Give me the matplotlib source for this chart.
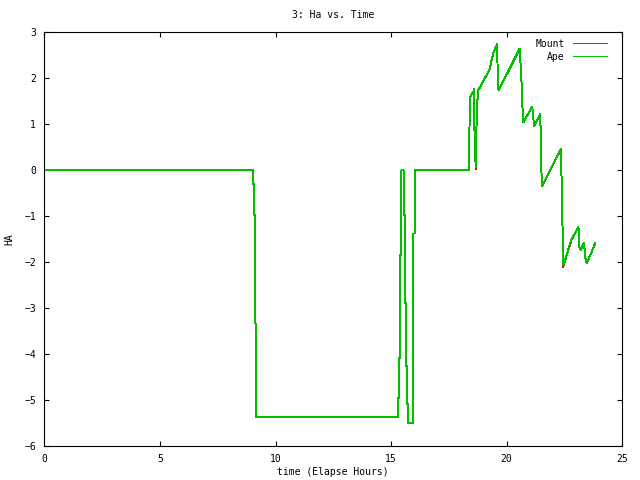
import numpy as np
import matplotlib
matplotlib.use('Agg')
import matplotlib.pyplot as plt

# elapsed hours and hour angle
time_hours = [0, 9.04, 9.04, 9.08, 9.08, 9.13, 9.13, 9.17, 9.17,
              15.29, 15.29, 15.35, 15.35, 15.39, 15.39, 15.44, 15.44, 15.48,
              15.57, 15.57, 15.61, 15.61, 15.65, 15.65, 15.70, 15.70, 15.74, 15.74,
              15.79, 15.79, 15.93, 15.93, 15.97, 15.97, 16.03, 16.03,
              18.39, 18.39, 18.42, 18.50, 18.57, 18.59, 18.59, 18.63, 18.67, 18.67,
              18.72, 18.76, 19.27, 19.42, 19.56, 19.59, 19.63, 19.67, 20.57, 20.65,
              20.69, 20.73, 21.11, 21.19, 21.45, 21.48, 21.50, 21.54, 22.35, 22.38,
              22.43, 22.45, 22.81, 23.11, 23.15, 23.21, 23.35, 23.41, 23.47, 23.84]
ape_ha = [0, 0, -0.31, -0.31, -0.98, -0.98, -3.34, -3.34, -5.37,
          -5.37, -4.95, -4.95, -4.08, -4.08, -1.85, -1.85, -0.02, 0.0,
          -0.02, -0.98, -0.98, -2.90, -2.90, -4.26, -4.26, -5.09, -5.09, -5.51,
          -5.51, -5.51, -5.51, -4.12, -4.12, -1.38, -1.38, 0,
          0, 0.78, 1.59, 1.65, 1.71, 1.77, 1.33, 0.48, 0.06, 0.48,
          1.30, 1.72, 2.19, 2.54, 2.70, 2.75, 1.78, 1.74, 2.64, 1.88,
          1.34, 1.04, 1.38, 0.96, 1.21, 0.83, 0.06, -0.35, 0.45, -0.18,
          -1.43, -2.07, -1.52, -1.23, -1.67, -1.74, -1.58, -1.92, -2.03, -1.59]
mount_ha = list(ape_ha)
mount_ha[44] = 0.02
mount_ha[67] = -2.10

plt.rcParams['font.family'] = 'DejaVu Sans Mono'
plt.rcParams['font.size'] = 7

fig = plt.figure(figsize=(6.4, 4.8), dpi=100)
ax = fig.add_axes([0.0695, 0.0708, 0.9025, 0.8625])

ax.plot(time_hours, mount_ha, color='#ff0000', lw=0.7, antialiased=False, label='Mount')
ax.plot(time_hours, ape_ha, color='#00c000', lw=0.7, antialiased=False, label='Ape')

ax.set_xlim(0, 25)
ax.set_ylim(-6, 3)
ax.set_xticks(np.arange(0, 26, 5))
ax.set_yticks(np.arange(-6, 4, 1))
ax.tick_params(direction='in', length=3.6, width=0.8, top=True, right=True, pad=6)
for s in ax.spines.values():
    s.set_linewidth(0.8)

ax.set_title('3: Ha vs. Time', fontsize=7, pad=10)
ax.set_xlabel('time (Elapse Hours)', va='center')
ax.xaxis.set_label_coords(0.5, -0.063)
ax.set_ylabel('HA', va='center')
ax.yaxis.set_label_coords(-0.06, 0.5)

ax.legend(loc='upper right', bbox_to_anchor=(0.985, 1.0), frameon=False, markerfirst=False,
          handlelength=3.5, labelspacing=0.3, borderaxespad=0.3, handletextpad=0.8)

plt.savefig('out.png', dpi=100)
